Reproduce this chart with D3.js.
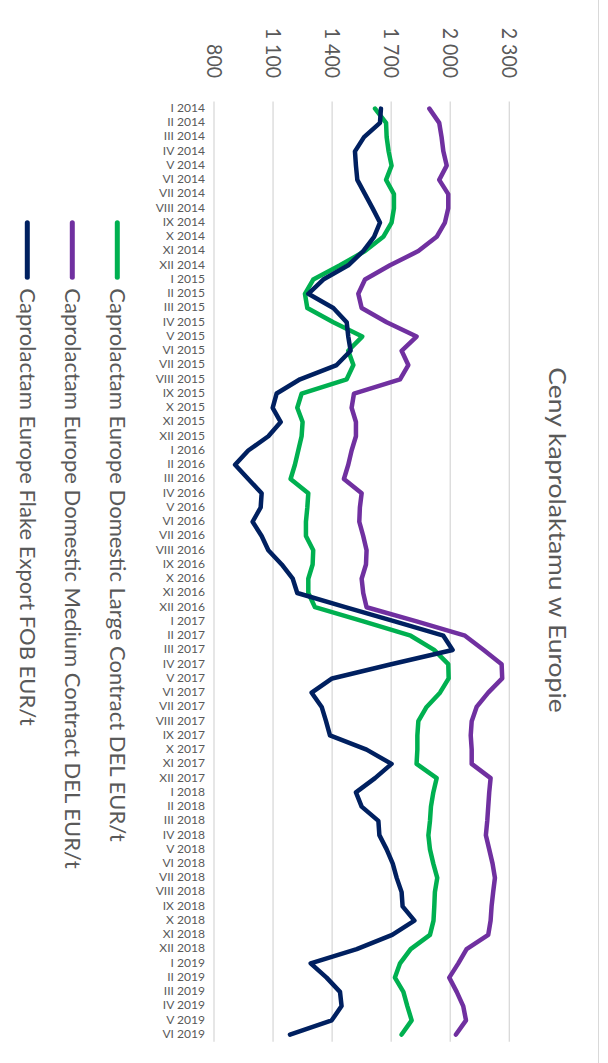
<!DOCTYPE html>
<html>
<head>
<meta charset="utf-8">
<script src="https://cdn.jsdelivr.net/npm/d3@7"></script>
<style>
  html, body { margin: 0; padding: 0; background: #fff; }
  svg { display: block; font-family: Lato, "Open Sans", sans-serif; }
</style>
</head>
<body>
<div id="chart"></div>
<script>
// Categories (months, Roman numeral + year)
const months = [
  "I 2014", "II 2014", "III 2014", "IV 2014", "V 2014", "VI 2014", "VII 2014", "VIII 2014", "IX 2014", "X 2014", "XI 2014", "XII 2014",
  "I 2015", "II 2015", "III 2015", "IV 2015", "V 2015", "VI 2015", "VII 2015", "VIII 2015", "IX 2015", "X 2015", "XI 2015", "XII 2015",
  "I 2016", "II 2016", "III 2016", "IV 2016", "V 2016", "VI 2016", "VII 2016", "VIII 2016", "IX 2016", "X 2016", "XI 2016", "XII 2016",
  "I 2017", "II 2017", "III 2017", "IV 2017", "V 2017", "VI 2017", "VII 2017", "VIII 2017", "IX 2017", "X 2017", "XI 2017", "XII 2017",
  "I 2018", "II 2018", "III 2018", "IV 2018", "V 2018", "VI 2018", "VII 2018", "VIII 2018", "IX 2018", "X 2018", "XI 2018", "XII 2018",
  "I 2019", "II 2019", "III 2019", "IV 2019", "V 2019", "VI 2019"
];

// EUR/t
const largeContract = [
  1618, 1674, 1677, 1687, 1702, 1674, 1714, 1714, 1702, 1660, 1567, 1440,
  1304, 1262, 1274, 1406, 1553, 1482, 1508, 1474, 1245, 1223, 1250, 1245,
  1228, 1211, 1189, 1279, 1274, 1267, 1267, 1304, 1301, 1279, 1279, 1313,
  1559, 1799, 1918, 1990, 1992, 1948, 1880, 1838, 1833, 1833, 1829, 1931,
  1914, 1902, 1897, 1889, 1897, 1914, 1934, 1922, 1919, 1915, 1897, 1799,
  1745, 1719, 1762, 1782, 1804, 1753
];
const mediumContract = [
  1894, 1944, 1956, 1965, 1982, 1944, 1990, 1990, 1973, 1931, 1838, 1694,
  1567, 1533, 1550, 1677, 1829, 1753, 1787, 1745, 1511, 1499, 1521, 1521,
  1499, 1482, 1460, 1550, 1541, 1538, 1558, 1575, 1572, 1550, 1558, 1575,
  1829, 2075, 2170, 2261, 2264, 2193, 2134, 2109, 2104, 2109, 2109, 2205,
  2198, 2193, 2188, 2181, 2198, 2215, 2227, 2218, 2210, 2205, 2193, 2083,
  2041, 1995, 2033, 2066, 2080, 2029
];
const flakeExport = [
  1648, 1643, 1562, 1516, 1521, 1528, 1567, 1606, 1643, 1613, 1558, 1482,
  1355, 1279, 1406, 1474, 1482, 1494, 1423, 1237, 1118, 1098, 1139, 1076,
  974, 907, 974, 1042, 1037, 996, 1042, 1076, 1144, 1200, 1223, 1467,
  1718, 1965, 2012, 1700, 1400, 1296, 1347, 1369, 1389, 1575, 1702, 1618,
  1521, 1550, 1635, 1640, 1677, 1708, 1728, 1753, 1758, 1818, 1705, 1525,
  1291, 1372, 1440, 1448, 1398, 1186
];

const valueTicks = [800, 1100, 1400, 1700, 2000, 2300];
const seriesNames = [
  "Caprolactam Europe Domestic Large Contract DEL EUR/t",
  "Caprolactam Europe Domestic Medium Contract DEL EUR/t",
  "Caprolactam Europe Flake Export FOB EUR/t"
];
const seriesColors = ["#00b050", "#7030a0", "#002060"];
const seriesData = [largeContract, mediumContract, flakeExport];

const width = 608;
const height = 1063;
const plotTop = 101.5;
const plotBottom = 1041.7;
const plotLeft = 214;
const plotRight = 509.3;
const textColor = "#595959";
// the picture is a bit wider than tall, so text is stretched across the page
const stretch = 1.1;

const svg = d3.select("#chart").append("svg")
    .attr("width", width)
    .attr("height", height);

// months run down the page, values run to the right
const y = d3.scaleBand()
    .domain(months)
    .range([plotTop, plotBottom]);

const x = d3.scaleLinear()
    .domain([800, 2300])
    .range([plotLeft, plotRight]);

const fmt = d3.formatLocale({ decimal: ",", thousands: "\u00a0", grouping: [3], currency: ["", ""] }).format(",d");

// chart area border (right edge is all that shows)
svg.append("line")
    .attr("x1", 598.5)
    .attr("x2", 598.5)
    .attr("y1", 0)
    .attr("y2", height)
    .attr("stroke", "#d9d9d9")
    .attr("stroke-width", 1);

// gridlines
svg.append("g")
  .selectAll("line")
  .data(valueTicks)
  .join("line")
    .attr("x1", d => x(d))
    .attr("x2", d => x(d))
    .attr("y1", plotTop)
    .attr("y2", plotBottom)
    .attr("stroke", "#d9d9d9")
    .attr("stroke-width", 1.3);

// value labels (rotated, above the plot)
const xAxis = svg.append("g")
    .attr("transform", `translate(0,78)`)
    .call(d3.axisTop(x).tickValues(valueTicks).tickFormat(fmt).tickSize(0));
xAxis.select(".domain").remove();
xAxis.selectAll("text")
    .attr("x", 0)
    .attr("y", 0)
    .attr("dy", "0.35em")
    .attr("text-anchor", "end")
    .attr("transform", `scale(${stretch},1) rotate(90)`)
    .attr("fill", textColor)
    .attr("font-family", "Lato, sans-serif")
    .attr("font-size", 19.5);

// month labels
const yAxis = svg.append("g")
    .attr("transform", `translate(205,0)`)
    .call(d3.axisLeft(y).tickSize(0).tickPadding(0));
yAxis.select(".domain").remove();
yAxis.selectAll("text")
    .attr("transform", `scale(1.15,1)`)
    .attr("fill", textColor)
    .attr("font-family", "Lato, sans-serif")
    .attr("font-size", 10.5);

// series
const line = d3.line()
    .x(d => x(d))
    .y((d, i) => y(months[i]) + y.bandwidth() / 2);

svg.append("g")
  .selectAll("path")
  .data(seriesData)
  .join("path")
    .attr("d", line)
    .attr("fill", "none")
    .attr("stroke", (d, i) => seriesColors[i])
    .attr("stroke-width", 4.5)
    .attr("stroke-linejoin", "round")
    .attr("stroke-linecap", "round");

// title
svg.append("text")
    .attr("transform", `translate(557,540) scale(0.88,1) rotate(90)`)
    .attr("dy", "0.35em")
    .attr("text-anchor", "middle")
    .attr("fill", textColor)
    .attr("font-size", 26.5)
    .text("Ceny kaprolaktamu w Europie");

// legend
const legend = svg.append("g")
  .selectAll("g")
  .data(seriesNames)
  .join("g")
    .attr("transform", (d, i) => `translate(${117.3 - i * 45},0)`);

legend.append("line")
    .attr("x1", 0)
    .attr("x2", 0)
    .attr("y1", 222.7)
    .attr("y2", 277.3)
    .attr("stroke", (d, i) => seriesColors[i])
    .attr("stroke-width", 5)
    .attr("stroke-linecap", "round");

legend.append("text")
    .attr("transform", `translate(0,288.3) scale(1,1) rotate(90)`)
    .attr("dy", "0.35em")
    .attr("fill", textColor)
    .attr("font-size", 22)
    .text(d => d);
</script>
</body>
</html>
